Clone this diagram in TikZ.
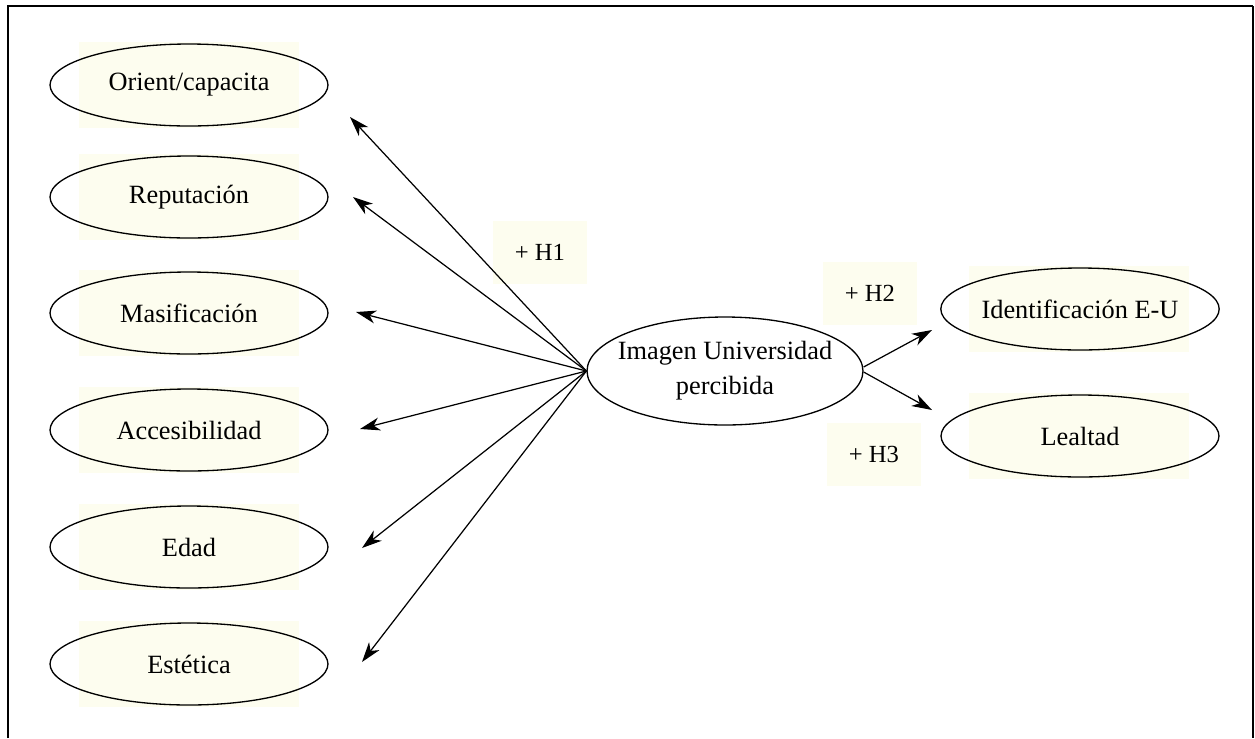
\documentclass[tikz,border=0pt]{standalone}
\usepackage{fontspec}
\setmainfont{Liberation Serif}
\usetikzlibrary{shapes.geometric,arrows.meta}
\definecolor{crema}{HTML}{FDFDEF}
\tikzset{
	factor/.style={ellipse, draw, line width=0.75pt, minimum width=5.56cm, minimum height=1.64cm, inner sep=0pt, font=\fontsize{15}{19.8}\selectfont},
	hipo/.style={fill=crema, minimum width=1.88cm, minimum height=1.26cm, inner sep=0pt, font=\fontsize{14}{17}\selectfont},
	flecha/.style={-{Stealth[length=0.4cm,width=0.26cm,inset=0.12cm]}, line width=0.7pt},
}
\def\fondo(#1,#2){\fill[crema] (#1-110,#2-43) rectangle (#1+110,#2+43);}

\begin{document}
\begin{tikzpicture}[x=0.02cm, y=-0.02cm]
			%%%%% START %%%%%
			
			\useasboundingbox (0, 0) rectangle (1255, 738);
			\draw[line width=0.7pt] (8, 738) -- (8, 6) -- (1253, 6);
			\draw[line width=1.1pt] (1253, 6) -- (1253, 738);
			
			\fondo(189, 85)
			\node[factor] (orient) at (189, 85) {Orient/capacita};
			\fondo(189, 197)
			\node[factor] (reput) at (189, 197) {Reputación};
			\fondo(189, 313)
			\node[factor] (masif) at (189, 313) {Masificación};
			\fondo(189, 430)
			\node[factor] (acces) at (189, 430) {Accesibilidad};
			\fondo(189, 547)
			\node[factor] (edad) at (189, 547) {Edad};
			\fondo(189, 664)
			\node[factor] (estet) at (189, 664) {Estética};
			
			\node[factor, minimum width=5.52cm, minimum height=2.16cm, inner xsep=-0.3cm, inner ysep=-0.1cm, align=center] (imagen) at (725, 371) {Imagen Universidad\\percibida};
			
			\fondo(1079, 309)
			\node[factor] (ident) at (1080, 309) {Identificación E-U};
			\fondo(1079, 436)
			\node[factor] (leal) at (1080, 436) {Lealtad};
			
			\node[hipo] (h1) at (540, 252) {+ H1};
			\node[hipo] (h2) at (870, 293) {+ H2};
			\node[hipo] (h3) at (874, 454) {+ H3};
			
			\coordinate (p1) at (350, 117);
			\coordinate (p2) at (353, 197);
			\coordinate (p3) at (356, 312);
			\coordinate (p4) at (360, 429);
			\coordinate (p5) at (362, 548);
			\coordinate (p6) at (362, 662);
			\coordinate (q1) at (932, 330);
			\coordinate (q2) at (932, 410);
			
			\draw[flecha] (imagen.west) -- (p1);
			\draw[flecha] (imagen.west) -- (p2);
			\draw[flecha] (imagen.west) -- (p3);
			\draw[flecha] (imagen.west) -- (p4);
			\draw[flecha] (imagen.west) -- (p5);
			\draw[flecha] (imagen.west) -- (p6);
			\draw[flecha] ([yshift=0.08cm]imagen.east) -- (q1);
			\draw[flecha] ([yshift=-0.02cm]imagen.east) -- (q2);
			
			%%%%% END %%%%%
\end{tikzpicture}
\end{document}
